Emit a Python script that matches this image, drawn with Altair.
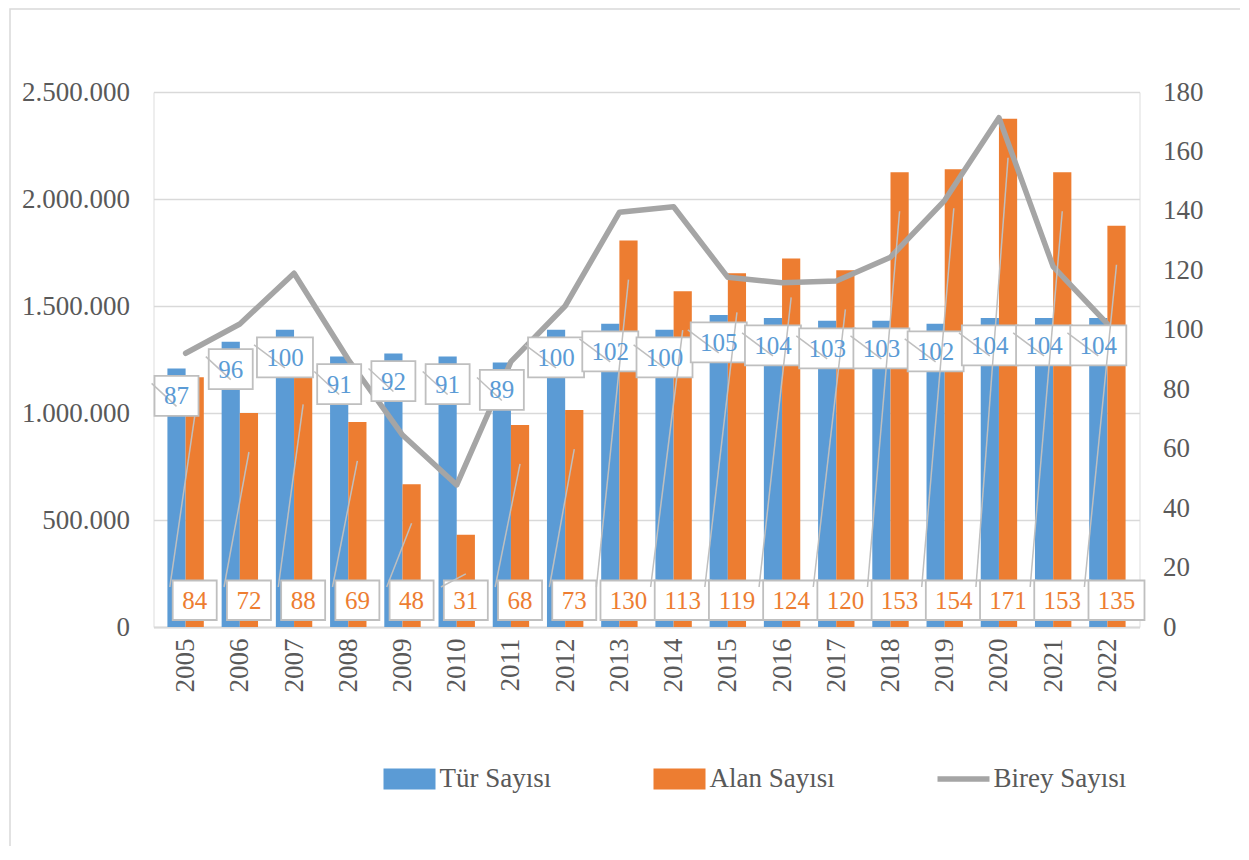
import altair as alt
import pandas as pd

years = [2005, 2006, 2007, 2008, 2009, 2010, 2011, 2012, 2013,
         2014, 2015, 2016, 2017, 2018, 2019, 2020, 2021, 2022]
tur = [87, 96, 100, 91, 92, 91, 89, 100, 102, 100, 105, 104, 103, 103, 102, 104, 104, 104]
alan = [84, 72, 88, 69, 48, 31, 68, 73, 130, 113, 119, 124, 120, 153, 154, 171, 153, 135]
birey = [1279000, 1416000, 1653000, 1250000, 897000, 664000, 1240000, 1500000, 1938000,
         1964000, 1634000, 1609000, 1617000, 1728000, 1994000, 2380000, 1684000, 1416000]
series_names = ["Tür Sayısı", "Alan Sayısı", "Birey Sayısı"]
series_colors = ["#5b9bd5", "#ed7d31", "#a5a5a5"]
left_ticks = [0, 500000, 1000000, 1500000, 2000000, 2500000]
right_ticks = [0, 20, 40, 60, 80, 100, 120, 140, 160, 180]

df = pd.DataFrame({"year": years, "tur": tur, "alan": alan, "birey": birey})
df_series = pd.DataFrame({"series": series_names})

FONT = "'Liberation Serif', 'Times New Roman', Times, serif"
AX_FS = 27
TXT = "#595959"
GRID = "#d9d9d9"
BOX = "#bfbfbf"
BLUE, ORANGE, GRAY = series_colors
RECT_SYM = "M-1,-0.4H1V0.4H-1Z"
LINE_SYM = "M-1,-0.11H1V0.11H-1Z"

x_enc = alt.X(
    "year:Q",
    scale=alt.Scale(domain=[2004.5, 2022.5], nice=False, zero=False),
    axis=alt.Axis(values=years, format="d", labelAngle=270, labelPadding=11,
                  ticks=False, domain=True, domainColor=GRID, domainWidth=2,
                  grid=False, labelFont=FONT, labelFontSize=AX_FS, labelColor=TXT,
                  title=None, labelOverlap=False),
)

right_scale = alt.Scale(domain=[0, 180], nice=False, zero=True)

def make_legend():
    return alt.Legend(
        title=None, orient="none", legendX=230, legendY=661, direction="horizontal",
        symbolSize=2704, symbolStrokeWidth=0, symbolOpacity=1,
        labelFont=FONT, labelFontSize=AX_FS, labelColor=TXT, labelOffset=4,
        columnPadding=102, padding=0,
    )

color_enc = alt.Color("series:N", scale=alt.Scale(domain=series_names, range=series_colors),
                      legend=make_legend())
shape_enc = alt.Shape("series:N", scale=alt.Scale(domain=series_names,
                                                  range=[RECT_SYM, RECT_SYM, LINE_SYM]),
                      legend=make_legend())

base = alt.Chart(df)

# --- bars (right axis) ---
y_right = alt.Y("v:Q", scale=right_scale,
                axis=alt.Axis(orient="right", values=right_ticks, format="d", grid=False,
                              ticks=False, domain=False, labelFont=FONT, labelFontSize=AX_FS,
                              labelColor=TXT, labelPadding=23, title=None))
bars_blue = base.transform_calculate(v="datum.tur", series="'Tür Sayısı'").mark_bar(
    size=18.2, xOffset=-9.1, orient="vertical").encode(x=x_enc, y=y_right, color=color_enc)
bars_orange = base.transform_calculate(v="datum.alan", series="'Alan Sayısı'").mark_bar(
    size=18.2, xOffset=9.1, orient="vertical").encode(x=x_enc, y=y_right, color=color_enc)
legend_keys = alt.Chart(df_series).mark_point(filled=True, opacity=0, size=1).encode(
    color=color_enc, shape=shape_enc)
bars = alt.layer(bars_blue, bars_orange, legend_keys)

# --- line (left axis) ---
line = base.mark_line(color=GRAY, strokeWidth=5.5, strokeCap="round", strokeJoin="round").encode(
    x=x_enc,
    y=alt.Y("birey:Q", scale=alt.Scale(domain=[0, 2500000], nice=False),
            axis=alt.Axis(orient="left", values=left_ticks, format=",d", grid=True,
                          gridColor=GRID, gridWidth=1.5, ticks=False, domain=False,
                          labelFont=FONT, labelFontSize=AX_FS, labelColor=TXT,
                          labelPadding=24, title=None)),
)

# --- data labels with boxes and leader lines (right scale, hidden axis) ---
def yq(f):
    return alt.Y(f"{f}:Q", scale=right_scale, axis=None)

lab = base.transform_calculate(zero="0",
                               bw_t="datum.tur >= 100 ? 56 : 44",
                               bw_a="datum.alan >= 100 ? 56 : 44")

box_blue = lab.mark_bar(fill="white", stroke=BOX, strokeWidth=1.8, orient="vertical",
                        xOffset=-9.1, yOffset=7.5, y2Offset=47.5).encode(
    x=x_enc, y=yq("tur"), y2="tur:Q", size=alt.Size("bw_t:Q", scale=None, legend=None))
box_orange = lab.mark_bar(fill="white", stroke=BOX, strokeWidth=1.8, orient="vertical",
                          xOffset=9.1, yOffset=-46.5, y2Offset=-7).encode(
    x=x_enc, y=yq("zero"), y2="zero:Q", size=alt.Size("bw_a:Q", scale=None, legend=None))

lead_blue2 = lab.transform_filter("datum.tur < 100").mark_rule(
    color=BOX, strokeWidth=1.5, xOffset=-34, x2Offset=-9.1, yOffset=15, y2Offset=38).encode(
    x=x_enc, x2="year:Q", y=yq("tur"), y2="tur:Q")
lead_blue3 = lab.transform_filter("datum.tur >= 100").mark_rule(
    color=BOX, strokeWidth=1.5, xOffset=-40, x2Offset=-9.1, yOffset=15, y2Offset=38).encode(
    x=x_enc, x2="year:Q", y=yq("tur"), y2="tur:Q")
lead_orange2 = lab.transform_filter("datum.alan < 100").mark_rule(
    color=BOX, strokeWidth=1.5, xOffset=-15.8, x2Offset=9.1, yOffset=-40, y2Offset=39).encode(
    x=x_enc, x2="year:Q", y=yq("zero"), y2="alan:Q")
lead_orange3 = lab.transform_filter("datum.alan >= 100").mark_rule(
    color=BOX, strokeWidth=1.5, xOffset=-23, x2Offset=9.1, yOffset=-40, y2Offset=39).encode(
    x=x_enc, x2="year:Q", y=yq("zero"), y2="alan:Q")

txt_blue = lab.mark_text(font=FONT, fontSize=25, color=BLUE, align="center",
                         baseline="alphabetic", dx=-9.1, dy=36).encode(
    x=x_enc, y=yq("tur"), text="tur:Q")
txt_orange = lab.mark_text(font=FONT, fontSize=25, color=ORANGE, align="center",
                           baseline="alphabetic", dx=9.1, dy=-18.5).encode(
    x=x_enc, y=yq("zero"), text="alan:Q")

labels = alt.layer(box_blue, box_orange, lead_blue2, lead_blue3, lead_orange2, lead_orange3,
                   txt_blue, txt_orange)

# --- outer chart frame ---
frame = alt.Chart(pd.DataFrame({"k": [0]})).mark_rect(
    fill="white", fillOpacity=0, stroke=GRID, strokeWidth=1.5).encode(
    x=alt.value(-143.5), x2=alt.value(1400), y=alt.value(-83), y2=alt.value(1000))

chart = alt.layer(frame, bars, line, labels).resolve_scale(y="independent").properties(
    width=986, height=535,
    padding={"left": 145.5, "top": 84, "right": 100, "bottom": 219},
    autosize=alt.AutoSizeParams(type="none"),
    background="white",
).configure_view(stroke=None).configure(
    font=FONT,
    locale={"number": {"decimal": ",", "thousands": ".", "grouping": [3], "currency": ["", ""]}}
)

chart.save("out.html", embed_options={"renderer": "svg", "actions": False})
